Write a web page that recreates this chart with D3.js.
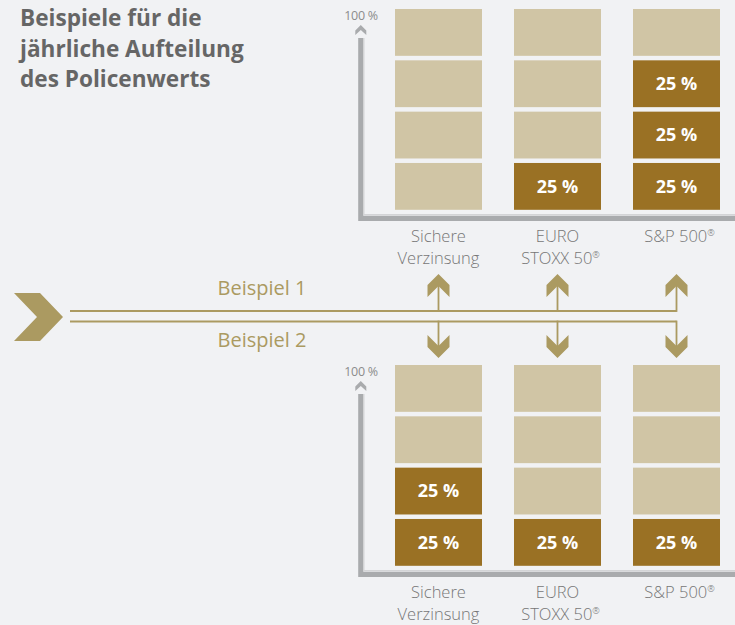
<!DOCTYPE html>
<html><head><meta charset="utf-8">
<script src="https://cdn.jsdelivr.net/npm/d3@7"></script>
<style>
html,body{margin:0;padding:0;background:#f1f2f4;}
svg{display:block;font-family:"Open Sans",sans-serif;}
</style></head>
<body><svg id="c" width="735" height="625"></svg>
<script>
const titleLines = ["Beispiele für die", "jährliche Aufteilung", "des Policenwerts"];
const categories = ["Sichere Verzinsung", "EURO STOXX 50®", "S&P 500®"];
const categoryLines = [["Sichere", "Verzinsung"], ["EURO", "STOXX 50®"], ["S&P 500®"]];
const exampleLabels = ["Beispiel 1", "Beispiel 2"];
const example1 = [0, 25, 75];   // Anteil in %
const example2 = [50, 25, 25];  // Anteil in %
const blockSize = 25;
const yMax = 100;
const yTopLabel = "100 %";

const svg = d3.select("#c");
const gold = "#ab9a61", light = "#d0c5a5", dark = "#9a7124", axisGrey = "#a9abad";

// Title
svg.append("text").attr("x", 20).attr("y", 26)
  .attr("fill", "#666666").attr("font-weight", 700).attr("font-size", 22.6)
  .selectAll("tspan").data(titleLines).join("tspan")
  .attr("x", 20).attr("dy", (d, i) => i ? 30.5 : 0).text(d => d);

const x = d3.scaleBand().domain(categories).range([395, 720]).paddingInner(32 / 119).paddingOuter(0);
const blocks = d3.range(0, yMax, blockSize);

function drawPanel(values, offsetY) {
  const g = svg.append("g").attr("transform", `translate(0,${offsetY})`);
  const y = d3.scaleLinear().domain([0, yMax]).range([214.3, 9]);
  const gap = 4.5;
  // axis
  g.append("path").attr("d", `M360.8,38 V218.3 H735`).attr("fill", "none")
    .attr("stroke", axisGrey).attr("stroke-width", 5.2).attr("stroke-linejoin", "miter");
  g.append("path").attr("d", `M363.8,38 V214.8 H735`).attr("fill", "none")
    .attr("stroke", "#d3d4d6").attr("stroke-width", 1.4);
  g.append("path").attr("d", "M360.8,25 L366.3,30.5 L366.3,35 L360.8,30 L355.3,35 L355.3,30.5 Z").attr("fill", axisGrey);
  g.append("text").attr("x", 361).attr("y", 19.5).attr("text-anchor", "middle")
    .attr("font-size", 12.5).attr("fill", "#8c8c8c").attr("letter-spacing", -0.3).text(yTopLabel);

  const cells = [];
  categories.forEach((c, ci) => blocks.forEach(b => cells.push({ c, b, on: b < values[ci] })));
  g.selectAll("rect.blk").data(cells).join("rect").attr("class", "blk")
    .attr("x", d => x(d.c)).attr("width", x.bandwidth())
    .attr("y", d => y(d.b + blockSize)).attr("height", d => y(d.b) - y(d.b + blockSize) - gap)
    .attr("fill", d => d.on ? dark : light);
  g.selectAll("text.val").data(cells.filter(d => d.on)).join("text").attr("class", "val")
    .attr("x", d => x(d.c) + x.bandwidth() / 2)
    .attr("y", d => (y(d.b + blockSize) + y(d.b) - gap) / 2 + 6.3)
    .attr("text-anchor", "middle").attr("fill", "#fff").attr("font-weight", 700).attr("font-size", 18)
    .text(d => blockSize + " %");

  // category labels
  categories.forEach((c, ci) => {
    const t = g.append("text").attr("text-anchor", "middle").attr("fill", "#767676")
      .attr("font-size", 16.5).attr("font-weight", 300);
    categoryLines[ci].forEach((line, li) => {
      const parts = line.split("®");
      t.append("tspan").attr("x", x(c) + x.bandwidth() / 2 + (line.includes("®") ? 3 : 0))
        .attr("y", 242 + li * 22).text(parts[0]);
      if (line.includes("®")) {
        t.append("tspan").attr("font-size", 9).attr("dy", -6).text("®");
      }
    });
  });
}
drawPanel(example1, 0);
drawPanel(example2, 356);

// Middle: chevron, lines, arrows
svg.append("path").attr("d", "M14,293 L40,293 L63,317 L40,341 L14,341 L37,317 Z").attr("fill", gold);
const arrowX = categories.map(c => x(c) + x.bandwidth() / 2);
const lineTop = 311, lineBot = 321.5, lineStart = 70;
const lastX = arrowX[arrowX.length - 1];
svg.append("path").attr("d", `M${lineStart},${lineTop} H${lastX}`).attr("stroke", gold).attr("stroke-width", 1.8).attr("fill", "none");
svg.append("path").attr("d", `M${lineStart},${lineBot} H${lastX}`).attr("stroke", gold).attr("stroke-width", 1.8).attr("fill", "none");
arrowX.forEach(ax => {
  svg.append("line").attr("x1", ax).attr("x2", ax).attr("y1", lineTop + 0.9).attr("y2", 282).attr("stroke", gold).attr("stroke-width", 1.8);
  svg.append("line").attr("x1", ax).attr("x2", ax).attr("y1", lineBot - 0.9).attr("y2", 350).attr("stroke", gold).attr("stroke-width", 1.8);
  svg.append("path").attr("d", `M${ax},274 L${ax + 11},285 L${ax + 11},297 L${ax},286 L${ax - 11},297 L${ax - 11},285 Z`).attr("fill", gold);
  svg.append("path").attr("d", `M${ax},358 L${ax + 11},347 L${ax + 11},335 L${ax},346 L${ax - 11},335 L${ax - 11},347 Z`).attr("fill", gold);
});
svg.append("text").attr("x", 262).attr("y", 295).attr("text-anchor", "middle").attr("fill", gold)
  .attr("font-size", 20).text(exampleLabels[0]);
svg.append("text").attr("x", 262).attr("y", 347).attr("text-anchor", "middle").attr("fill", gold)
  .attr("font-size", 20).text(exampleLabels[1]);
</script></body></html>
